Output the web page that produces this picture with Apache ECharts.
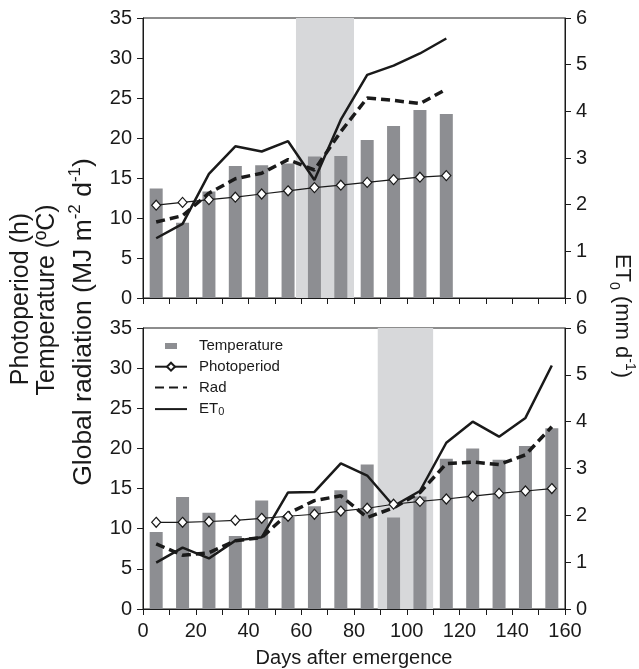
<!DOCTYPE html>
<html>
<head>
<meta charset="utf-8">
<script src="https://cdn.jsdelivr.net/npm/echarts@6/dist/echarts.min.js"></script>
<style>
  html, body { margin: 0; padding: 0; background: #fff; }
  #chart { width: 639px; height: 669px; }
</style>
</head>
<body>
<div id="chart"></div>
<script>
// top panel
const daysTop = [5, 15, 25, 35, 45, 55, 65, 75, 85, 95, 105, 115];
const tempTop = [13.7, 9.4, 13.3, 16.5, 16.6, 16.8, 17.7, 17.75, 19.75, 21.5, 23.5, 23.0];
const photoTop = [11.6, 11.95, 12.3, 12.6, 13.0, 13.4, 13.8, 14.1, 14.45, 14.8, 15.1, 15.3];
const radTop = [9.5, 10.3, 13.1, 14.9, 15.6, 17.3, 16.0, 20.8, 25.0, 24.7, 24.3, 26.1];
const etTop = [1.28, 1.59, 2.66, 3.25, 3.14, 3.36, 2.53, 3.82, 4.78, 4.98, 5.24, 5.56];
const shadeTop = [58, 80];

// bottom panel
const daysBot = [5, 15, 25, 35, 45, 55, 65, 75, 85, 95, 105, 115, 125, 135, 145, 155];
const tempBot = [9.6, 13.95, 12.0, 9.1, 13.5, 11.5, 12.8, 14.8, 18.0, 11.4, 14.0, 18.7, 20.0, 18.6, 20.3, 22.5];
const photoBot = [10.8, 10.8, 10.9, 11.05, 11.3, 11.55, 11.8, 12.2, 12.55, 13.05, 13.4, 13.7, 14.05, 14.4, 14.7, 15.0];
const radBot = [8.1, 6.7, 7.0, 8.5, 8.9, 11.9, 13.5, 14.1, 11.4, 12.6, 14.5, 18.1, 18.3, 18.0, 19.2, 22.7];
const etBot = [0.99, 1.31, 1.08, 1.46, 1.53, 2.49, 2.5, 3.11, 2.85, 2.2, 2.52, 3.55, 4.0, 3.68, 4.08, 5.2];
const shadeBot = [89, 110];

const leftTicks = [0, 35, 5];
const rightTicks = [0, 6, 1];
const xTicks = [0, 160, 10];

const FONT = 'Liberation Sans, Arial, sans-serif';
const INK = '#1a1a1a';
const BAR = '#8d8e92';
const SHADE = '#d7d8da';
const NONE = 'rgba(0,0,0,0)';

function zip(xs, ys) {
    return xs.map((x, i) => [x, ys[i]]);
}

function xAxis(gridIndex, labels) {
    return {
        type: 'value', gridIndex: gridIndex,
        min: xTicks[0], max: xTicks[1], interval: xTicks[2],
        axisLine: { lineStyle: { color: INK, width: 1 } },
        axisTick: { length: 6, lineStyle: { color: INK } },
        splitLine: { show: false },
        axisLabel: {
            show: labels, margin: 12, fontSize: 20, fontFamily: FONT, color: INK,
            formatter: v => (v % 20 === 0 ? String(v) : '')
        },
        name: labels ? 'Days after emergence' : '',
        nameLocation: 'middle', nameGap: 39,
        nameTextStyle: { fontSize: 20, fontFamily: FONT, color: INK }
    };
}

function yAxis(gridIndex, right) {
    const t = right ? rightTicks : leftTicks;
    return {
        type: 'value', gridIndex: gridIndex, position: right ? 'right' : 'left',
        min: t[0], max: t[1], interval: t[2],
        axisLine: { show: true, lineStyle: { color: INK, width: 1 } },
        axisTick: { show: true, length: 6, lineStyle: { color: INK } },
        splitLine: { show: false },
        axisLabel: { margin: 11, fontSize: 20, fontFamily: FONT, color: INK }
    };
}

function panelSeries(i, days, temp, photo, rad, et, shade) {
    return [
        {
            // shaded period
            type: 'line', xAxisIndex: i, yAxisIndex: i * 2, data: [], z: 1, silent: true,
            markArea: {
                silent: true,
                itemStyle: { color: SHADE },
                data: [[{ xAxis: shade[0] }, { xAxis: shade[1] }]]
            }
        },
        {
            name: 'Temperature', type: 'bar', xAxisIndex: i, yAxisIndex: i * 2, z: 2,
            barWidth: 13, itemStyle: { color: BAR }, data: zip(days, temp)
        },
        {
            name: 'Photoperiod', type: 'line', xAxisIndex: i, yAxisIndex: i * 2, z: 5,
            symbol: 'diamond', symbolSize: [9, 10],
            itemStyle: { color: '#fff', borderColor: INK, borderWidth: 1.2 },
            lineStyle: { color: INK, width: 1.2 }, data: zip(days, photo)
        },
        {
            name: 'Rad', type: 'line', xAxisIndex: i, yAxisIndex: i * 2, z: 4,
            showSymbol: false, symbol: 'none',
            itemStyle: { color: NONE },
            lineStyle: { color: INK, width: 3.5, type: [9, 5] }, data: zip(days, rad)
        },
        {
            name: 'ET0', type: 'line', xAxisIndex: i, yAxisIndex: i * 2 + 1, z: 4,
            showSymbol: false, symbol: 'none',
            itemStyle: { color: NONE },
            lineStyle: { color: INK, width: 2.5 }, data: zip(days, et)
        }
    ];
}

function richSet(size) {
    const small = Math.round(size * 0.64);
    return {
        b: { fontSize: size, fontFamily: FONT, fill: INK, lineHeight: size + 8 },
        s: { fontSize: small, fontFamily: FONT, fill: INK, verticalAlign: 'top', lineHeight: size + 8 },
        u: { fontSize: small, fontFamily: FONT, fill: INK, verticalAlign: 'bottom', lineHeight: size + 8 }
    };
}

const chart = echarts.init(document.getElementById('chart'));
chart.setOption({
    animation: false,
    grid: [
        { left: 143, right: 74, top: 18, height: 280, show: true, borderColor: INK, borderWidth: 1 },
        { left: 143, right: 74, top: 328, height: 282, show: true, borderColor: INK, borderWidth: 1 }
    ],
    xAxis: [xAxis(0, false), xAxis(1, true)],
    yAxis: [yAxis(0, false), yAxis(0, true), yAxis(1, false), yAxis(1, true)],
    legend: {
        orient: 'vertical', left: 149, top: 333, itemGap: 4.7,
        itemWidth: 32, itemHeight: 10,
        data: [
            { name: 'Temperature', icon: 'path://M10,2h12v6h-12z M0,0h0.01v0.01h-0.01z M32,10h0.01v0.01h-0.01z', itemStyle: { color: BAR } },
            { name: 'Photoperiod' },
            { name: 'Rad', itemStyle: { color: NONE, borderWidth: 0 } },
            { name: 'ET0', itemStyle: { color: NONE, borderWidth: 0 } }
        ],
        formatter: n => (n === 'ET0' ? 'ET{sub|0}' : n),
        textStyle: {
            fontSize: 15, fontFamily: FONT, color: INK, lineHeight: 16, padding: [0, 0, 0, 7],
            rich: { sub: { fontSize: 11, fontFamily: FONT, color: INK, lineHeight: 16, verticalAlign: 'bottom', padding: [6, 0, 0, 0] } }
        }
    },
    series: [].concat(
        panelSeries(0, daysTop, tempTop, photoTop, radTop, etTop, shadeTop),
        panelSeries(1, daysBot, tempBot, photoBot, radBot, etBot, shadeBot)
    ),
    graphic: [
        {
            type: 'text', x: 21, y: 299, rotation: Math.PI / 2,
            style: { text: '{b|Photoperiod (h)}', align: 'center', verticalAlign: 'middle', rich: richSet(25) }
        },
        {
            type: 'text', x: 47, y: 300, rotation: Math.PI / 2,
            style: { text: '{b|Temperature (ºC)}', align: 'center', verticalAlign: 'middle', rich: richSet(25) }
        },
        {
            type: 'text', x: 84, y: 322, rotation: Math.PI / 2,
            style: {
                text: '{b|Global radiation (MJ m}{s|-2}{b| d}{s|-1}{b|)}',
                align: 'center', verticalAlign: 'middle', rich: richSet(26.5)
            }
        },
        {
            type: 'text', x: 622, y: 316, rotation: -Math.PI / 2,
            style: {
                text: '{b|ET}{u|0}{b| (mm d}{s|-1}{b|)}',
                align: 'center', verticalAlign: 'middle', rich: richSet(22)
            }
        }
    ]
});
</script>
</body>
</html>
